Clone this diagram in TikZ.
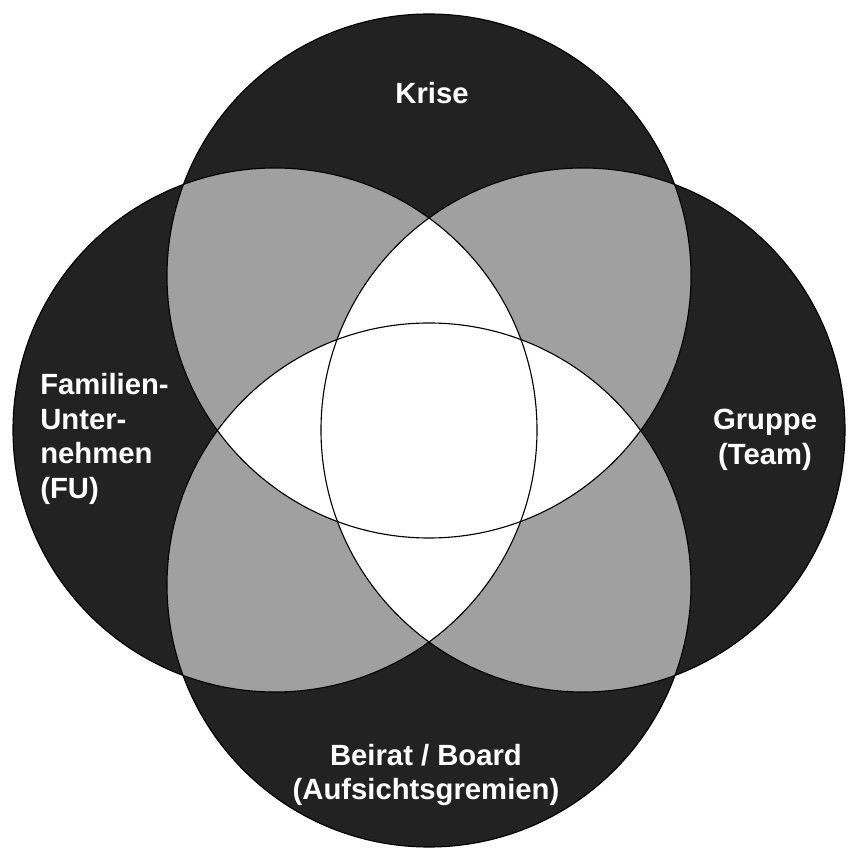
\documentclass[tikz,border=0pt]{standalone}
\usepackage{fontspec}
\setmainfont{Liberation Sans}
\definecolor{vennblack}{HTML}{222222}
\definecolor{venngray}{HTML}{A0A0A0}
\begin{document}
\begin{tikzpicture}[
  x=0.025cm, y=0.025cm,
  vennouter/.style = {fill=vennblack},
  vennpair/.style = {fill=venngray},
  venninner/.style = {fill=white},
  vennline/.style = {draw=black, line width=0.8pt},
  vennlbl/.style = {text=white, inner sep=0pt, font=\bfseries\fontsize{20.8}{24.8}\selectfont}
]
  \useasboundingbox (0,0) rectangle (849,850);
  % Mittelpunkte
  \coordinate (cK) at (429,574);
  \coordinate (cF) at (275,420);
  \coordinate (cG) at (583,420);
  \coordinate (cB) at (429,265);
  \def\vennr{262}
  % Kreise
  \foreach \c in {cK,cF,cG,cB}
    \fill[vennouter] (\c) circle (\vennr);
  % Schnittflaechen benachbarter Kreise
  \begin{scope}
    \clip (cK) circle (\vennr);
    \fill[vennpair] (cF) circle (\vennr);
    \fill[vennpair] (cG) circle (\vennr);
  \end{scope}
  \begin{scope}
    \clip (cB) circle (\vennr);
    \fill[vennpair] (cF) circle (\vennr);
    \fill[vennpair] (cG) circle (\vennr);
  \end{scope}
  % Linsen
  \begin{scope}
    \clip (cF) circle (\vennr);
    \fill[venninner] (cG) circle (\vennr);
  \end{scope}
  \begin{scope}
    \clip (cK) circle (\vennr);
    \fill[venninner] (cB) circle (\vennr);
  \end{scope}
  % Konturen
  \foreach \c in {cK,cF,cG,cB}
    \draw[vennline] (\c) circle (\vennr);
  % Beschriftung
  \node[vennlbl] (krise) at (432,757) {Krise};
  \node[vennlbl, anchor=west, align=left] (fu) at (40,411)
    {Familien-\\Unter-\\nehmen\\(FU)};
  \node[vennlbl, align=center] (gruppe) at (765,410) {Gruppe\\(Team)};
  \node[vennlbl, align=center] (beirat) at (426,75)
    {Beirat / Board\\(Aufsichtsgremien)};
\end{tikzpicture}
\end{document}
